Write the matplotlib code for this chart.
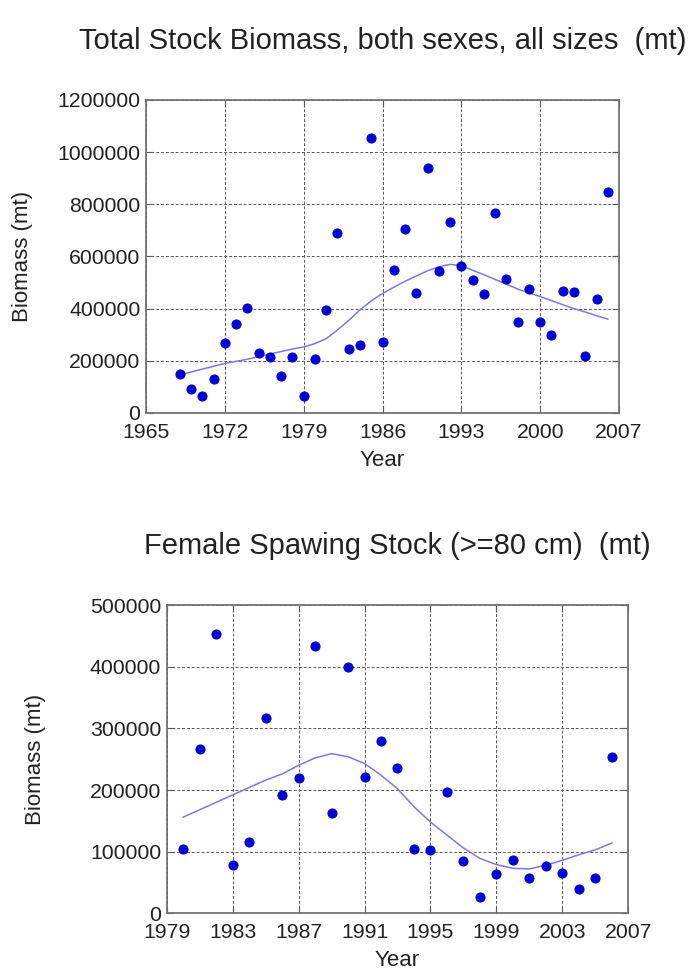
import matplotlib

matplotlib.use("Agg")
import matplotlib.pyplot as plt

plt.rcParams["font.family"] = ["Liberation Sans", "DejaVu Sans"]

# Total stock biomass, both sexes, all sizes (mt)
total_years = list(range(1968, 2007))
total_biomass = [
    148000, 92000, 66000, 129000, 270000, 342000, 401000, 229000, 213000, 141000,
    213000, 66000, 207000, 394000, 691000, 244000, 260000, 1055000, 273000, 547000,
    707000, 460000, 938000, 544000, 733000, 564000, 511000, 457000, 766000, 513000,
    350000, 475000, 350000, 300000, 468000, 464000, 220000, 437000, 847000,
]
total_smooth_years = [1968, 1970, 1972, 1974, 1976, 1978, 1979, 1980, 1981, 1982,
                      1983, 1984, 1985, 1986, 1987, 1988, 1989, 1990, 1991, 1992,
                      1993, 1994, 1995, 1996, 1997, 1998, 1999, 2000, 2001, 2002,
                      2003, 2004, 2005, 2006]
total_smooth = [146000, 168000, 190000, 206000, 226000, 245000, 253000, 266000, 285000,
                318000, 355000, 395000, 430000, 458000, 482000, 505000, 525000, 545000,
                560000, 570000, 564000, 547000, 530000, 512000, 494000, 475000, 460000,
                446000, 431000, 415000, 400000, 387000, 373000, 360000]

# Female spawning stock (>=80 cm) (mt)
female_years = list(range(1980, 2007))
female_biomass = [
    105000, 266000, 453000, 78000, 116000, 317000, 192000, 219000, 433000, 162000,
    400000, 221000, 280000, 235000, 105000, 103000, 196000, 85000, 27000, 63000,
    86000, 57000, 76000, 65000, 40000, 57000, 253000,
]
female_smooth_years = list(range(1980, 2007))
female_smooth = [156000, 168000, 180000, 192000, 204000, 216000, 226000, 240000, 252000,
                 259000, 254000, 243000, 224000, 202000, 173000, 148000, 127000, 106000,
                 89000, 79000, 73000, 72000, 78000, 86000, 95000, 103000, 114000]

top_xticks = [1965, 1972, 1979, 1986, 1993, 2000, 2007]
top_yticks = [0, 200000, 400000, 600000, 800000, 1000000, 1200000]
bot_xticks = [1979, 1983, 1987, 1991, 1995, 1999, 2003, 2007]
bot_yticks = [0, 100000, 200000, 300000, 400000, 500000]

DOT = "#0000d4"
CURVE = "#7a7ade"


def style(ax, xticks, yticks):
    ax.set_xticks(xticks)
    ax.set_yticks(yticks)
    ax.set_xlim(xticks[0], xticks[-1])
    ax.set_ylim(yticks[0], yticks[-1])
    ax.set_yticklabels([str(v) for v in yticks])
    ax.grid(True, color="0.35", linestyle=(0, (3, 2)), linewidth=0.7)
    ax.tick_params(direction="in", length=5, width=0.8, color="0.35",
                   top=True, right=True, labelsize=15.3, labelcolor="#222222")
    ax.tick_params(axis="x", pad=7)
    ax.tick_params(axis="y", pad=4)
    for s in ax.spines.values():
        s.set_color("0.45")
        s.set_linewidth(1.3)
    ax.set_xlabel("Year", fontsize=16, color="#222222", labelpad=6)


fig = plt.figure(figsize=(6.94, 9.74), dpi=100)

ax1 = fig.add_axes([0.2104, 0.5760, 0.6816, 0.3214])
ax1.plot(total_smooth_years, total_smooth, color=CURVE, lw=1.1, zorder=2)
ax1.plot(total_years, total_biomass, "o", color=DOT, ms=6.3, zorder=3)
style(ax1, top_xticks, top_yticks)
ax1.set_title("Total Stock Biomass, both sexes, all sizes  (mt)", fontsize=21,
              color="#222222", pad=37)
ax1.set_ylabel("Biomass (mt)", fontsize=16, color="#222222")
ax1.yaxis.set_label_coords(-0.239, 0.5)

ax2 = fig.add_axes([0.2402, 0.0623, 0.6651, 0.3165])
ax2.plot(female_smooth_years, female_smooth, color=CURVE, lw=1.1, zorder=2)
ax2.plot(female_years, female_biomass, "o", color=DOT, ms=6.3, zorder=3)
style(ax2, bot_xticks, bot_yticks)
ax2.set_title("Female Spawing Stock (>=80 cm)  (mt)", fontsize=21,
              color="#222222", pad=37)
ax2.set_ylabel("Biomass (mt)", fontsize=16, color="#222222")
ax2.yaxis.set_label_coords(-0.261, 0.5)

fig.savefig("out.png", dpi=100)
